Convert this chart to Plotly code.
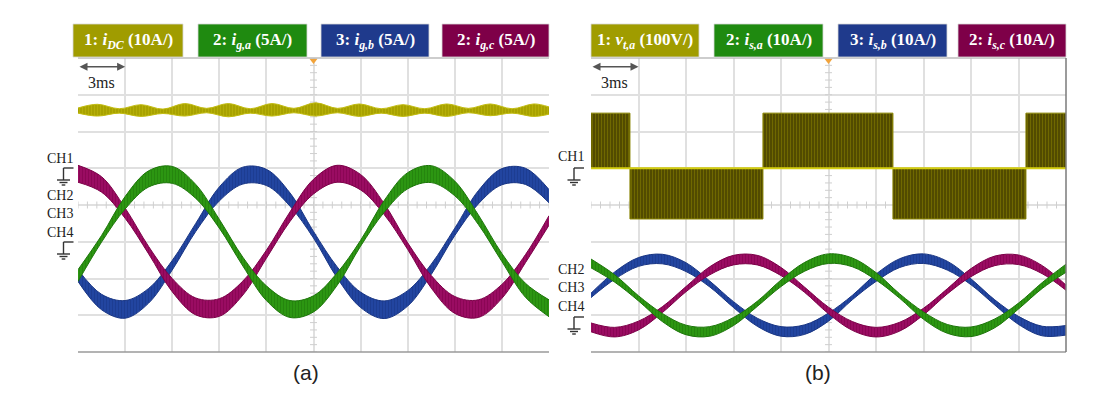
import plotly.graph_objects as go
import numpy as np

W, H = 1100, 394

# ---------------- data: panel (a) ----------------
# time in ms (10 div x 3 ms), vertical in divisions (0 bottom .. 8 top)
t_s = [0.0, 1.5, 3.0, 4.5, 6.0, 7.5, 9.0, 10.5, 12.0, 13.5, 15.0,
       16.5, 18.0, 19.5, 21.0, 22.5, 24.0, 25.5, 27.0, 28.5, 30.0]

iga_mid = [2.08, 3.08, 4.06, 4.71, 4.82, 4.37, 3.49, 2.46, 1.60, 1.17, 1.31,
           1.98, 2.96, 3.96, 4.66, 4.84, 4.45, 3.60, 2.57, 1.68, 1.19]
iga_hw = [0.16, 0.09, 0.17, 0.22, 0.23, 0.19, 0.12, 0.12, 0.20, 0.23, 0.22,
          0.17, 0.08, 0.16, 0.22, 0.23, 0.20, 0.13, 0.11, 0.19, 0.23]

igb_mid = [2.08, 1.36, 1.16, 1.53, 2.36, 3.39, 4.30, 4.80, 4.75, 4.15, 3.19,
           2.17, 1.42, 1.15, 1.46, 2.25, 3.27, 4.21, 4.77, 4.78, 4.24]
igb_hw = [0.16, 0.21, 0.24, 0.20, 0.13, 0.11, 0.19, 0.23, 0.22, 0.18, 0.09,
          0.15, 0.21, 0.24, 0.21, 0.14, 0.10, 0.18, 0.22, 0.22, 0.18]

igc_mid = [4.85, 4.56, 3.78, 2.77, 1.82, 1.24, 1.21, 1.74, 2.66, 3.68, 4.50,
           4.85, 4.62, 3.89, 2.88, 1.91, 1.28, 1.18, 1.65, 2.54, 3.58]
igc_hw = [0.23, 0.21, 0.14, 0.10, 0.18, 0.23, 0.24, 0.19, 0.11, 0.13, 0.20,
          0.23, 0.21, 0.15, 0.09, 0.17, 0.23, 0.24, 0.19, 0.11, 0.13]

t_dc = [0.0, 1.24, 2.63, 4.02, 5.41, 6.80, 8.19, 9.58, 10.97, 12.36, 13.75,
        15.14, 16.53, 17.92, 19.31, 20.70, 22.09, 23.48, 24.87, 26.26, 27.65,
        29.04, 30.0]
idc_mid = [6.57, 6.58, 6.56, 6.57, 6.55, 6.59, 6.57, 6.58, 6.56, 6.59, 6.57,
           6.60, 6.57, 6.58, 6.56, 6.57, 6.56, 6.58, 6.57, 6.59, 6.56, 6.58, 6.57]
idc_hw = [0.07, 0.16, 0.06, 0.16, 0.06, 0.17, 0.06, 0.18, 0.06, 0.17, 0.06,
          0.18, 0.06, 0.17, 0.06, 0.16, 0.06, 0.17, 0.06, 0.16, 0.06, 0.17, 0.10]

# ---------------- data: panel (b) ----------------
isa_mid = [2.41, 2.00, 1.46, 0.94, 0.60, 0.56, 0.83, 1.31, 1.87, 2.32, 2.54,
           2.44, 2.06, 1.52, 0.99, 0.63, 0.55, 0.78, 1.25, 1.81, 2.28]
isa_hw = [0.12, 0.10, 0.07, 0.11, 0.13, 0.13, 0.11, 0.07, 0.09, 0.12, 0.13,
          0.12, 0.10, 0.06, 0.10, 0.12, 0.13, 0.12, 0.08, 0.08, 0.11]

isb_mid = [1.54, 2.08, 2.45, 2.53, 2.31, 1.85, 1.29, 0.81, 0.56, 0.61, 0.95,
           1.48, 2.02, 2.42, 2.54, 2.35, 1.91, 1.35, 0.86, 0.57, 0.59]
isb_hw = [0.06, 0.10, 0.12, 0.13, 0.12, 0.08, 0.08, 0.11, 0.13, 0.13, 0.11,
          0.06, 0.10, 0.12, 0.13, 0.12, 0.08, 0.07, 0.11, 0.13, 0.13]

isc_mid = [0.67, 0.54, 0.72, 1.15, 1.71, 2.21, 2.50, 2.50, 2.19, 1.69, 1.13,
           0.71, 0.54, 0.69, 1.10, 1.65, 2.16, 2.48, 2.51, 2.24, 1.75]
isc_hw = [0.12, 0.13, 0.12, 0.08, 0.07, 0.11, 0.13, 0.13, 0.11, 0.07, 0.09,
          0.12, 0.13, 0.12, 0.09, 0.07, 0.11, 0.13, 0.13, 0.11, 0.07]

vt_start = [0.0, 2.46, 10.86, 19.07, 27.47]
vt_end = [2.46, 10.86, 19.07, 27.47, 30.0]
vt_level = [6.50, 3.62, 6.50, 3.62, 6.50]
vt_zero = 5.0

# ---------------- labels ----------------
legend_a = ["1: <i>i</i><sub><i>DC</i></sub> (10A/)", "2: <i>i</i><sub><i>g,a</i></sub> (5A/)",
            "3: <i>i</i><sub><i>g,b</i></sub> (5A/)", "2: <i>i</i><sub><i>g,c</i></sub> (5A/)"]
legend_b = ["1: <i>v</i><sub><i>t,a</i></sub> (100V/)", "2: <i>i</i><sub><i>s,a</i></sub> (10A/)",
            "3: <i>i</i><sub><i>s,b</i></sub> (10A/)", "2: <i>i</i><sub><i>s,c</i></sub> (10A/)"]
box_colors = ["#a09c00", "#1f8a10", "#1f3a8c", "#7e0048"]
box_x_a = [(73, 183), (198, 307), (321, 429), (442, 549)]
box_x_b = [(591, 699), (714, 823), (838, 947), (958, 1066)]
ch_labels = ["CH1", "CH2", "CH3", "CH4"]
ch_y_a = [158, 195, 213, 232]
ch_y_b = [157, 269, 287, 306]
captions = ["(a)", "(b)"]

# ---------------- colors ----------------
GREEN, GREEN_E = "#2c9612", "#1d760a"
BLUE, BLUE_E = "#2245a0", "#183584"
MAG, MAG_E = "#9a0c62", "#7c0048"
YEL, YEL_E = "#a8a200", "#c2bc10"

fig = go.Figure()

def px(x):
    return x / W

def py(y):
    return 1 - y / H

def band(t, mid, hw, fill, edge, xa, ya):
    lo = [m - h for m, h in zip(mid, hw)]
    hi = [m + h for m, h in zip(mid, hw)]
    fig.add_trace(go.Scatter(x=t, y=lo, mode="lines", xaxis=xa, yaxis=ya,
                             line=dict(color=edge, width=1, shape="spline", smoothing=1.0),
                             hoverinfo="skip", showlegend=False))
    fig.add_trace(go.Scatter(x=t, y=hi, mode="lines", xaxis=xa, yaxis=ya,
                             line=dict(color=edge, width=1, shape="spline", smoothing=1.0),
                             fill="tonexty", fillcolor=fill,
                             fillpattern=dict(shape="|", fgcolor=edge, bgcolor=fill,
                                              size=3, solidity=0.35),
                             hoverinfo="skip", showlegend=False))

# center cross tick marks (decoration)
for xa, ya in (("x", "y"), ("x2", "y2")):
    yy = np.arange(0, 8.01, 0.2)
    fig.add_trace(go.Scatter(x=[15] * len(yy), y=yy, mode="markers", xaxis=xa, yaxis=ya,
                             marker=dict(symbol="line-ew-open", size=5, color="#cfcfcf",
                                         line=dict(color="#cfcfcf", width=1)),
                             hoverinfo="skip", showlegend=False))
    xx = np.arange(0, 30.01, 0.6)
    fig.add_trace(go.Scatter(x=xx, y=[4] * len(xx), mode="markers", xaxis=xa, yaxis=ya,
                             marker=dict(symbol="line-ns-open", size=5, color="#cfcfcf",
                                         line=dict(color="#cfcfcf", width=1)),
                             hoverinfo="skip", showlegend=False))

# panel (a)
band(t_dc, idc_mid, idc_hw, YEL, YEL_E, "x", "y")
band(t_s, igb_mid, igb_hw, BLUE, BLUE_E, "x", "y")
band(t_s, igc_mid, igc_hw, MAG, MAG_E, "x", "y")
band(t_s, iga_mid, iga_hw, GREEN, GREEN_E, "x", "y")

# panel (b)
for s, e, lv in zip(vt_start, vt_end, vt_level):
    fig.add_trace(go.Scatter(x=[s, s, e, e, s], y=[vt_zero, lv, lv, vt_zero, vt_zero],
                             mode="lines", xaxis="x2", yaxis="y2", fill="toself",
                             fillcolor="#5a5300",
                             fillpattern=dict(shape="|", fgcolor="#8f8800", bgcolor="#4f4800",
                                              size=3, solidity=0.4),
                             line=dict(color="#8a8400", width=1),
                             hoverinfo="skip", showlegend=False))
fig.add_trace(go.Scatter(x=[0, 30], y=[vt_zero, vt_zero], mode="lines", xaxis="x2", yaxis="y2",
                         line=dict(color="#d4ce10", width=2), hoverinfo="skip", showlegend=False))
band(t_s, isb_mid, isb_hw, BLUE, BLUE_E, "x2", "y2")
band(t_s, isc_mid, isc_hw, MAG, MAG_E, "x2", "y2")
band(t_s, isa_mid, isa_hw, GREEN, GREEN_E, "x2", "y2")

# trigger markers
for xa, ya in (("x", "y"), ("x2", "y2")):
    fig.add_trace(go.Scatter(x=[15], y=[7.93], mode="markers", xaxis=xa, yaxis=ya,
                             marker=dict(symbol="triangle-down", size=7, color="#f2a33a"),
                             cliponaxis=False, hoverinfo="skip", showlegend=False))

ydom = [py(352), py(58)]
axis_common = dict(range=[0, 30], showticklabels=False, ticks="", zeroline=False,
                   showgrid=True, gridcolor="#e0e0e0", gridwidth=1.5,
                   tickvals=[3, 6, 9, 12, 15, 18, 21, 24, 27], fixedrange=True)
yaxis_common = dict(range=[0, 8], showticklabels=False, ticks="", zeroline=False,
                    showgrid=True, gridcolor="#e0e0e0", gridwidth=1.5,
                    tickvals=[1, 2, 3, 4, 5, 6, 7], fixedrange=True)

fig.update_layout(
    width=W, height=H, margin=dict(l=0, r=0, t=0, b=0),
    paper_bgcolor="white", plot_bgcolor="white", showlegend=False,
    xaxis=dict(domain=[px(78), px(549)], anchor="y", **axis_common),
    yaxis=dict(domain=ydom, anchor="x", **yaxis_common),
    xaxis2=dict(domain=[px(591), px(1066)], anchor="y2", **axis_common),
    yaxis2=dict(domain=ydom, anchor="x2", **yaxis_common),
)

shapes = []
anns = []

# frame lines
for x0, x1 in ((78, 549), (591, 1066)):
    shapes.append(dict(type="line", xref="paper", yref="paper", x0=px(x0), x1=px(x1),
                       y0=py(58), y1=py(58), line=dict(color="#bdbdbd", width=1.5)))
    shapes.append(dict(type="line", xref="paper", yref="paper", x0=px(x0), x1=px(x1),
                       y0=py(352), y1=py(352), line=dict(color="#9a9a9a", width=1.5)))
shapes.append(dict(type="line", xref="paper", yref="paper", x0=px(1066), x1=px(1066),
                   y0=py(352), y1=py(58), line=dict(color="#7a7a7a", width=1.5)))

# legend boxes
for labels, xs in ((legend_a, box_x_a), (legend_b, box_x_b)):
    for lab, (x0, x1), col in zip(labels, xs, box_colors):
        shapes.append(dict(type="rect", xref="paper", yref="paper", x0=px(x0), x1=px(x1),
                           y0=py(57), y1=py(24), fillcolor=col,
                           line=dict(color="#d8d8d8", width=0.8)))
        anns.append(dict(xref="paper", yref="paper", x=px((x0 + x1) / 2), y=py(40.5),
                         text="<b>" + lab + "</b>", showarrow=False,
                         font=dict(family="Liberation Serif", size=17, color="white"),
                         xanchor="center", yanchor="middle"))

# 3 ms scale arrows
for xa, ya in (("x", "y"), ("x2", "y2")):
    anns.append(dict(xref=xa, yref=ya, x=3, y=7.76, ax=0, ay=7.76, axref=xa, ayref=ya,
                     text="", showarrow=True, arrowhead=2, startarrowhead=2,
                     arrowside="end+start", arrowsize=1, arrowwidth=1.6, arrowcolor="#555555"))
    anns.append(dict(xref=xa, yref=ya, x=1.5, y=7.33, text="3ms", showarrow=False,
                     font=dict(family="Liberation Serif", size=16, color="#222222"),
                     xanchor="center", yanchor="middle"))

# channel labels
for xc, ys in ((60, ch_y_a), (571, ch_y_b)):
    for lab, yc in zip(ch_labels, ys):
        anns.append(dict(xref="paper", yref="paper", x=px(xc), y=py(yc), text=lab,
                         showarrow=False, xanchor="center", yanchor="middle",
                         font=dict(family="Liberation Serif", size=14, color="#222222")))

# ground glyphs
def ground(x0, y0):
    segs = [((x0, y0), (x0 + 10, y0)), ((x0, y0), (x0, y0 + 12)),
            ((x0 - 6.5, y0 + 12), (x0 + 6.5, y0 + 12)),
            ((x0 - 4, y0 + 14.5), (x0 + 4, y0 + 14.5)),
            ((x0 - 1.8, y0 + 17), (x0 + 1.8, y0 + 17))]
    for (a, b), (c, d) in segs:
        shapes.append(dict(type="line", xref="paper", yref="paper", x0=px(a), y0=py(b),
                           x1=px(c), y1=py(d), line=dict(color="#333333", width=1.4)))

ground(63.5, 168)
ground(63.5, 242)
ground(574, 168)
ground(574, 317)

# captions
for cap, xc in zip(captions, (306, 818)):
    anns.append(dict(xref="paper", yref="paper", x=px(xc), y=py(372), text=cap,
                     showarrow=False, xanchor="center", yanchor="middle",
                     font=dict(family="Liberation Sans", size=21, color="#222222")))

fig.update_layout(shapes=shapes, annotations=anns)
fig.write_html("out.html", config={"displayModeBar": False},
               post_script="document.body.style.margin='0';")
